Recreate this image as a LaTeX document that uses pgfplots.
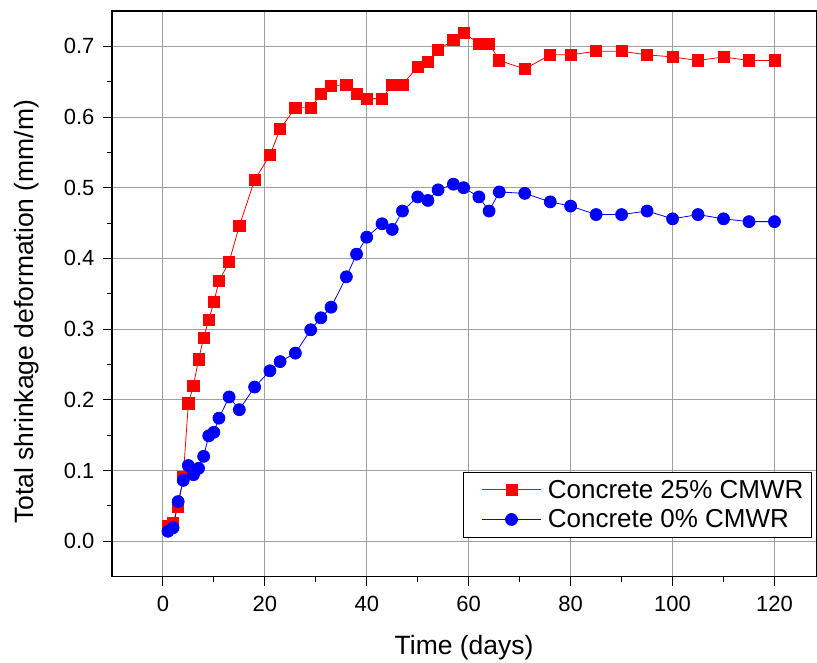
\documentclass[border=0pt]{standalone}
\usepackage{fontspec}
\setmainfont{Liberation Sans}
\usepackage{pgfplots}
\pgfplotsset{compat=1.18}

\begin{document}
\begin{tikzpicture}
  \begin{axis}[
      scale only axis,
      width=705pt, height=566pt,
      xmin=-10, xmax=128.2,
      ymin=-0.05, ymax=0.75,
      xtick={0,20,...,120},
      ytick={0,0.1,0.2,0.3,0.4,0.5,0.6,0.7},
      minor x tick num=1,
      minor y tick num=1,
      xtick pos=bottom, ytick pos=left,
      tick align=outside,
      major tick length=9pt, minor tick length=5pt,
      tick style={black, line width=1pt},
      axis line style={line width=1.4pt},
      xmajorgrids=true, ymajorgrids=true,
      grid style={gray!75, line width=0.9pt},
      /pgf/number format/assume math mode=true,
      yticklabel style={xshift=-5pt, /pgf/number format/.cd, fixed, fixed zerofill, precision=1},
      xticklabel style={yshift=-7pt},
      ticklabel style={font=\fontsize{22}{26}\selectfont},
      every axis x label/.style={at={(axis description cs:0.5,-0.125)}, anchor=center},
      every axis y label/.style={at={(axis description cs:-0.1206,0.468)}, rotate=90, anchor=center},
      label style={font=\fontsize{26.5}{31}\selectfont},
      xlabel={Time (days)},
      ylabel={Total shrinkage deformation (mm/m)},
      legend style={at={(0.498,0.1855)}, anchor=north west,
        font=\fontsize{26}{30}\selectfont, draw=black, line width=0.9pt,
        inner xsep=6pt, inner ysep=6pt, row sep=6pt, column sep=4pt},
      legend cell align=left,
      legend image code/.code={
        \path (0pt,0pt);
        \draw[mark repeat=2, mark phase=2, #1] plot coordinates {(12pt,0pt) (42pt,0pt) (72pt,0pt)};
      },
    ]
    % Concrete 25% CMWR
    \addplot[red, line width=0.8pt, mark=square*, mark size=5.6pt, mark options={solid, fill=red}]
    coordinates {
        (1,0.022) (2,0.026) (3,0.049) (4,0.091) (5,0.195) (6,0.220) (7,0.257)
        (8,0.288) (9,0.313) (10,0.338) (11,0.368) (13,0.395) (15,0.446)
        (18,0.511) (21,0.546) (23,0.583) (26,0.613) (29,0.613) (31,0.633)
        (33,0.644) (36,0.646) (38,0.633) (40,0.626) (43,0.626) (45,0.646)
        (47,0.646) (50,0.671) (52,0.678) (54,0.695) (57,0.709) (59,0.719)
        (62,0.704) (64,0.704) (66,0.680) (71,0.668) (76,0.688) (80,0.688)
        (85,0.693) (90,0.693) (95,0.688) (100,0.685) (105,0.680) (110,0.685)
        (115,0.680) (120,0.680)
      };
    % Concrete 0% CMWR
    \addplot[blue, line width=0.8pt, mark=*, mark size=6pt, mark options={solid, fill=blue}]
    coordinates {
        (1,0.014) (2,0.019) (3,0.056) (4,0.086) (5,0.107) (6,0.094) (7,0.103)
        (8,0.120) (9,0.149) (10,0.154) (11,0.174) (13,0.204) (15,0.186)
        (18,0.218) (21,0.241) (23,0.254) (26,0.266) (29,0.299) (31,0.316)
        (33,0.331) (36,0.374) (38,0.406) (40,0.430) (43,0.449) (45,0.441)
        (47,0.467) (50,0.487) (52,0.482) (54,0.497) (57,0.505) (59,0.500)
        (62,0.487) (64,0.467) (66,0.494) (71,0.492) (76,0.480) (80,0.474)
        (85,0.462) (90,0.462) (95,0.467) (100,0.456) (105,0.462) (110,0.456)
        (115,0.452) (120,0.452)
      };
    \legend{Concrete 25\% CMWR, Concrete 0\% CMWR}
  \end{axis}
  % page margins as in the reference
  \path ([xshift=-112pt, yshift=11pt]current axis.north west)
    rectangle ([yshift=-82pt]current axis.south east);
\end{tikzpicture}
\end{document}
